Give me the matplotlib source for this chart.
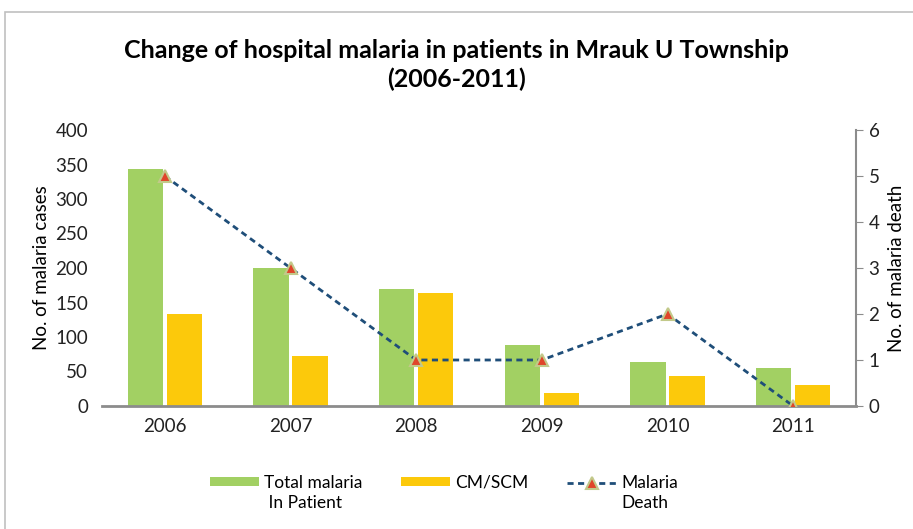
import numpy as np
import matplotlib
matplotlib.use("Agg")
from matplotlib import pyplot as plt
from matplotlib.patches import Rectangle

plt.rcParams['font.family'] = ['Lato', 'DejaVu Sans']

# datos
years = ['2006', '2007', '2008', '2009', '2010', '2011']
total_inpatient = [343, 200, 170, 88, 64, 55]
cm_scm = [133, 72, 164, 19, 43, 30]
deaths = [5, 3, 1, 1, 2, 0]

green = '#a2d063'
yellow = '#fcc90b'
navy = '#1f4e79'
gray = '#8c8c8c'

fig = plt.figure(figsize=(9.13, 5.29), dpi=100)

# marco gris del area del grafico
fig.patches.append(Rectangle((5 / 913, -0.1), 1.1, 1 - 12 / 529 + 0.1,
                             transform=fig.transFigure, fill=False,
                             edgecolor='#c0c0c0', linewidth=1.2))

ax = fig.add_axes([102 / 913, 1 - 406 / 529, (856 - 102) / 913, (406 - 130) / 529])
x = np.arange(len(years))
w = 0.28
b1 = ax.bar(x - 0.155, total_inpatient, w, color=green)
b2 = ax.bar(x + 0.155, cm_scm, w, color=yellow)

ax.set_xlim(-0.5, len(years) - 0.5)
ax.set_ylim(0, 400)
ax.set_yticks(range(0, 401, 50))
ax.set_xticks(x)
ax.set_xticklabels(years)
ax.tick_params(axis='both', labelsize=13.5, length=0, colors='#222222')
ax.tick_params(axis='x', pad=9)
ax.tick_params(axis='y', pad=10)
for s in ['left', 'right', 'top']:
    ax.spines[s].set_visible(False)
ax.spines['bottom'].set_color(gray)
ax.spines['bottom'].set_linewidth(2)
ax.set_ylabel('No. of malaria cases', fontsize=13.5, labelpad=4)

ax2 = ax.twinx()
ln, = ax2.plot(x, deaths, color=navy, linestyle=(0, (2.2, 1.6)), linewidth=2,
               marker='^', markersize=8, markerfacecolor='#e0452a',
               markeredgecolor='#c2c98a', markeredgewidth=1.5)
ax2.set_ylim(0, 6)
ax2.set_yticks(range(0, 7))
ax2.tick_params(axis='y', labelsize=13.5, length=5, direction='out', colors=gray,
                labelcolor='#222222', pad=4)
for s in ['left', 'top', 'bottom']:
    ax2.spines[s].set_visible(False)
ax2.spines['right'].set_color(gray)
ax2.spines['right'].set_linewidth(1.5)
ax2.set_ylabel('No. of malaria death', fontsize=13.5, labelpad=6)

fig.text(0.5, 1 - 65 / 529, 'Change of hospital malaria in patients in Mrauk U Township\n(2006-2011)',
         ha='center', va='center', fontsize=18, fontweight='bold', linespacing=1.25)

# leyenda: primera linea en la leyenda, segunda linea debajo del texto
leg = fig.legend([b1, b2, ln], ['Total malaria', 'CM/SCM', 'Malaria'],
                 loc='center left', bbox_to_anchor=(210 / 913, 1 - 483 / 529), ncol=3,
                 frameon=False, fontsize=12.5, handlelength=2.8, handleheight=0.45,
                 columnspacing=2.25, handletextpad=0.3, borderaxespad=0, borderpad=0)
fig.canvas.draw()
inv = fig.transFigure.inverted()
for t, extra in zip(leg.get_texts(), [' In Patient', None, 'Death']):
    if extra is None:
        continue
    bb = t.get_window_extent()
    x0, y0 = inv.transform((bb.x0, bb.y0))
    fig.text(x0, y0 - 4 / 529, extra, ha='left', va='top', fontsize=12.5)

fig.savefig('out.png', dpi=100)
